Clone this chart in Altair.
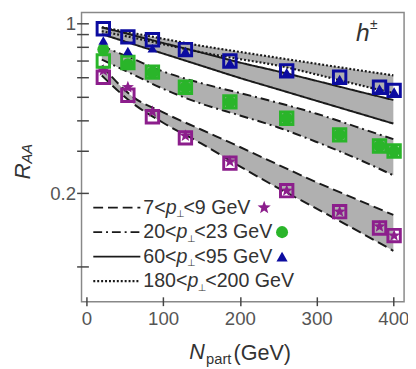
import math
import altair as alt
import pandas as pd

# ---------------- data ----------------
N_band = [20, 60, 100, 150, 200, 250, 300, 350, 400]
purple_hi = [0.67, 0.50, 0.43, 0.365, 0.31, 0.262, 0.222, 0.19, 0.163]
purple_lo = [0.61, 0.47, 0.39, 0.32, 0.258, 0.21, 0.173, 0.142, 0.116]
green_hi = [0.807, 0.716, 0.634, 0.567, 0.517, 0.471, 0.425, 0.377, 0.334]
green_lo = [0.709, 0.618, 0.538, 0.467, 0.418, 0.373, 0.325, 0.280, 0.237]
solid_hi = [0.963, 0.895, 0.830, 0.758, 0.690, 0.634, 0.580, 0.529, 0.484]
solid_lo = [0.903, 0.823, 0.751, 0.669, 0.596, 0.535, 0.480, 0.431, 0.387]
dot_hi = [0.963, 0.913, 0.864, 0.808, 0.763, 0.721, 0.682, 0.645, 0.611]
dot_lo = [0.928, 0.874, 0.821, 0.760, 0.713, 0.670, 0.616, 0.563, 0.517]

N_data = [22, 54, 86, 129, 187, 261, 330, 382, 401]
purple_sq = [0.60, 0.506, 0.413, 0.338, 0.266, 0.205, 0.168, 0.144, 0.134]
purple_star = [0.64, 0.546, 0.433, 0.345, 0.27, 0.205, 0.168, 0.146, 0.134]
green_sq = [0.70, 0.69, 0.63, 0.546, 0.475, 0.407, 0.348, 0.313, 0.2985]
green_circ = [0.78, 0.679, 0.628, 0.546, 0.475, 0.407, 0.348, 0.313, 0.2985]
blue_sq = [0.95, 0.88, 0.856, 0.78, 0.70, 0.638, 0.60, 0.546, 0.53]
blue_tri = [0.85, 0.77, 0.79, 0.77, 0.69, 0.63, 0.59, 0.54, 0.525]

x_ticks = [0, 100, 200, 300, 400]
y_ticks = [round(0.1 * k, 1) for k in range(1, 11)]

legend_pre = ["7<", "20<", "60<", "180<"]
legend_post = ["<9 GeV", "<23 GeV", "<95 GeV", "<200 GeV"]

# ---------------- styles ----------------
FONT = "Liberation Sans, Arial, Helvetica, sans-serif"
PURPLE, GREEN, BLUE = "#8c1e8c", "#2ab52a", "#0c0ca0"
BAND = "#b0b0b0"
LINE = "#1a1a1a"
DASH = [10, 5]
DASHDOT = [9, 4, 2, 4]
SOLID = [1, 0]
DOT = [2, 2]

W, H = 329, 295

# star symbol path
pts = []
for k in range(10):
    a = math.radians(-90 + 36 * k)
    r = 1.0 if k % 2 == 0 else 0.42
    pts.append(f"{r*math.cos(a):.3f},{r*math.sin(a):.3f}")
STAR = "M" + " L".join(pts) + " Z"

xs = alt.Scale(domain=[-6.4, 414], nice=False, zero=False)
ys = alt.Scale(type="log", domain=[0.0716, 1.108], nice=False)

x_axis = alt.Axis(values=x_ticks, title=None, grid=False, domain=False,
                  offset=-5, tickSize=9, labelPadding=4, labelFontSize=19)
y_axis = alt.Axis(values=y_ticks, title=None, grid=False, domain=False,
                  offset=-7, tickSize=12, labelPadding=1, labelFontSize=19,
                  labelExpr="datum.value > 0.95 ? '1' : (abs(datum.value - 0.2) < 0.001 ? '0.2' : '')")


def X(f="N"):
    return alt.X(f"{f}:Q", scale=xs, axis=x_axis)


def Y(f):
    return alt.Y(f"{f}:Q", scale=ys, axis=y_axis)


layers = []

# bands (areas first)
bands = [
    (purple_hi, purple_lo, DASH, 2),
    (green_hi, green_lo, DASHDOT, 2),
    (solid_hi, solid_lo, SOLID, 2),
    (dot_hi, dot_lo, DOT, 2.2),
]
for hi, lo, dash, sw in bands:
    df = pd.DataFrame({"N": N_band, "hi": hi, "lo": lo})
    layers.append(
        alt.Chart(df).mark_area(color=BAND, interpolate="monotone").encode(
            x=X(), y=Y("hi"), y2="lo:Q",
        )
    )
for hi, lo, dash, sw in bands:
    df = pd.DataFrame({"N": N_band, "hi": hi, "lo": lo})
    for col in ["hi", "lo"]:
        layers.append(
            alt.Chart(df).mark_line(color=LINE, strokeWidth=sw, strokeDash=dash,
                                    interpolate="monotone").encode(
                x=X(), y=Y(col),
            )
        )

# data points
series = [
    (purple_sq, purple_star, PURPLE, STAR, 170),
    (green_sq, green_circ, GREEN, "circle", 150),
    (blue_sq, blue_tri, BLUE, "triangle-up", 100),
]
for sq, fil, col, shp, sz in series:
    df = pd.DataFrame({"N": N_data, "sq": sq, "f": fil})
    layers.append(
        alt.Chart(df).mark_point(shape="square", filled=False, size=160,
                                 strokeWidth=3, color=col, opacity=1).encode(
            x=X(), y=Y("sq"),
        )
    )
    layers.append(
        alt.Chart(df).mark_point(shape=shp, filled=True, size=sz, color=col,
                                 opacity=1).encode(
            x=X(), y=Y("f"),
        )
    )

one = pd.DataFrame({"a": [0]})


def txt(s, x, y, size, style="normal", color="#333", align="left", angle=0,
        font=FONT, baseline="middle"):
    return alt.Chart(one).mark_text(
        fontSize=size, fontStyle=style, color=color, align=align,
        baseline=baseline, angle=angle, font=font
    ).encode(x=alt.value(x), y=alt.value(y), text=alt.value(s))


CW = {"0": .556, "1": .556, "2": .556, "3": .556, "4": .556, "5": .556,
      "6": .556, "7": .556, "8": .556, "9": .556, "<": .584, "p": .556,
      " ": .278, "G": .778, "e": .556, "V": .667}


def tw(s, size):
    return sum(CW.get(c, 0.6) for c in s) * size


# legend
LFS = 20
row_y = [199, 224, 249, 274]
dashes = [DASH, DASHDOT, SOLID, DOT]
marks = [(STAR, PURPLE, 200, 14), ("circle", GREEN, 150, 10), ("triangle-up", BLUE, 130, 10), None]
for i in range(4):
    y = row_y[i]
    layers.append(
        alt.Chart(one).mark_rule(color=LINE, strokeWidth=2.2 if i == 3 else 2,
                                 strokeDash=dashes[i]).encode(
            x=alt.value(12), x2=alt.value(60), y=alt.value(y))
    )
    x0 = 63
    layers.append(txt(legend_pre[i], x0, y, LFS))
    xp = x0 + tw(legend_pre[i], LFS)
    layers.append(txt("p", xp, y, LFS, style="italic"))
    xs_ = xp + tw("p", LFS)
    layers.append(txt("⊥", xs_ - 0.5, y + 7, 10, font="DejaVu Sans"))
    xpost = xs_ + 7
    layers.append(txt(legend_post[i], xpost, y, LFS))
    end = xpost + tw(legend_post[i], LFS)
    if marks[i] is not None:
        shp, col, sz, gap = marks[i]
        layers.append(
            alt.Chart(one).mark_point(shape=shp, filled=True, size=sz, color=col,
                                      opacity=1).encode(
                x=alt.value(end + gap), y=alt.value(y))
        )

# axis titles and label
layers.append(txt("R", -60, 162, 23, style="italic", align="center", angle=270))
layers.append(txt("AA", -56, 144, 15, style="italic", align="center", angle=270))
layers.append(txt("N", 110, 346, 22, style="italic"))
layers.append(txt("part", 127, 353, 15))
layers.append(txt("(GeV)", 155, 347, 22))
layers.append(txt("h", 287, 21, 25, style="italic", align="center"))
layers.append(txt("±", 298, 13, 14, align="center"))

chart = alt.layer(*layers).properties(
    width=W, height=H,
    padding={"left": 75, "top": 1, "right": 4, "bottom": 65},
    autosize=alt.AutoSizeParams(type="none"),
).configure_view(
    stroke="#888888", strokeWidth=1.5
).configure_axis(
    labelFont=FONT, labelColor="#555555", tickColor="#444444", tickWidth=1.5
)

chart.save("out.html", embed_options={"renderer": "svg", "actions": False})
